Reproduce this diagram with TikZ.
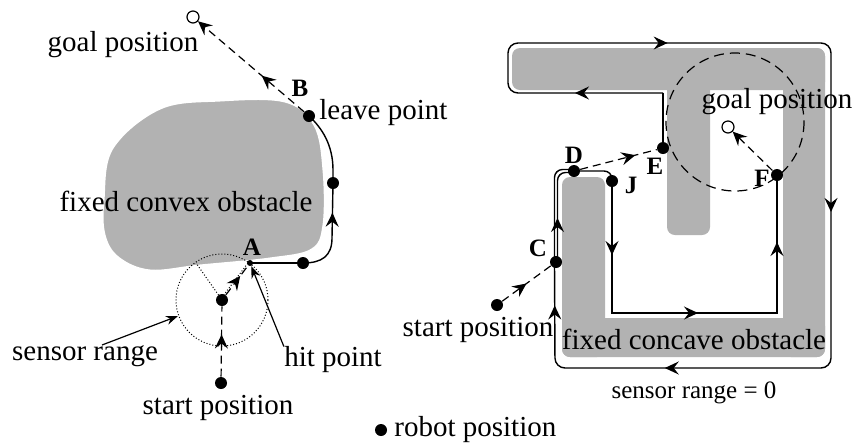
\documentclass[tikz,border=0pt]{standalone}
\usepackage{fontspec}
\setmainfont{Liberation Serif}
\usetikzlibrary{arrows.meta, decorations.markings}

\begin{document}
\begin{tikzpicture}[
   x = 0.5pt, y = -0.5pt,
   font = \fontsize{14.5}{16}\selectfont,
   >/.tip = {Stealth[length=7pt, width=6.5pt, inset=2.5pt]},
   robot/.style = {circle, fill=black, inner sep=0pt, minimum size=6pt},
   goal/.style = {circle, draw=black, fill=white, inner sep=0pt, minimum size=6pt, line width=0.6pt},
   letter/.style = {font=\fontsize{12.5}{14}\selectfont\bfseries, inner sep=0pt},
   lbl/.style = {inner sep=0pt},
   obstacle/.style = {fill=black!30},
   trail/.style = {line width=0.7pt},
   guess/.style = {line width=0.6pt, dash pattern=on 4pt off 2.5pt},
   midarr/.style = {postaction={decorate},
      decoration={markings, mark=at position #1 with {\arrow{>}}}}]
   \useasboundingbox (0,0) rectangle (856,446);

   % left: convex obstacle
   \fill[obstacle, draw=white, line width=1.5pt] plot[smooth cycle, tension=0.6] coordinates
      {(103,200) (112,148) (160,108) (220,100) (285,101) (315,125) (324,170) (324,225)
       (312,250) (270,259) (200,266) (150,271) (118,258) (104,235)};

   \node[robot] (start1) at (221,383) {};
   \node[robot] (robot1) at (222,300) {};
   \node[robot, minimum size=3pt] (hitA) at (250,263) {};
   \node[robot] (follow1) at (303,263) {};
   \node[robot] (follow2) at (333,183) {};
   \node[robot] (leaveB) at (309,116) {};
   \node[goal] (goal1) at (193,17) {};
   \coordinate (rayend) at (196,263);
   \coordinate (rangeto) at (178,316);
   \coordinate (rangefrom) at (102,345);

   \draw[densely dotted, line width=0.5pt] (robot1.center) circle[radius=46];
   \draw[densely dotted, line width=0.5pt] (robot1.center) -- (rayend);
   \draw[densely dotted, line width=0.5pt] ([xshift=-1pt]robot1.center) -- ([xshift=-1pt]hitA.center);
   \draw[guess, midarr=0.6] (start1) -- (robot1);
   \draw[guess, midarr=0.65] (robot1) -- (hitA);
   \draw[trail] (hitA.center) -- (follow1.center);
   \draw[trail, midarr=0.7] (follow1.center) .. controls (322,263) and (332,256) .. (332,238) -- (follow2.center);
   \draw[trail] (follow2.center) -- (333,170) .. controls (333,145) and (322,128) .. (leaveB.center);
   \draw[guess, midarr=0.4, ->] (leaveB) -- (goal1);

   \node[lbl] (goal1lbl) at (123,45) {goal position};
   \node[letter] (lblB) at (300,88) {B};
   \node[lbl, anchor=west] (leavelbl) at (319,113) {leave point};
   \node[lbl] (convexlbl) at (186,201) {fixed convex obstacle};
   \node[letter] (lblA) at (252,247) {A};
   \node[lbl] (rangelbl) at (85,356) {sensor range};
   \node[lbl] (hitlbl) at (333,360) {hit point};
   \node[lbl] (start1lbl) at (218,408) {start position};
   \draw[line width=0.6pt, -{Stealth[length=6pt, width=4.5pt]}] (rangefrom) -- (rangeto);
   \draw[line width=0.6pt, -{Stealth[length=6pt, width=4.5pt]}] (hitlbl.north west) -- (hitA);

   % right: concave obstacle
   \fill[obstacle, rounded corners=4pt] (512,48) rectangle (825,90);
   \fill[obstacle, rounded corners=4pt] (783,48) rectangle (825,357);
   \fill[obstacle, rounded corners=4pt] (562,318) rectangle (825,357);
   \fill[obstacle, rounded corners=4pt] (562,177) rectangle (605,357);
   \fill[obstacle, rounded corners=4pt] (667,48) rectangle (710,235);

   \node[robot] (start2) at (497,305) {};
   \node[robot] (ptC) at (556,262) {};
   \node[robot] (ptD) at (574,171) {};
   \node[robot] (ptJ) at (612,181) {};
   \node[robot] (ptE) at (663,148) {};
   \node[robot] (ptF) at (777,175) {};
   \node[goal] (goal2) at (728,127) {};
   \coordinate (cE) at (663,93);
   \coordinate (cTL1) at (508,93);
   \coordinate (cTL2) at (508,43);
   \coordinate (cTR) at (831,43);
   \coordinate (cBR) at (831,368);
   \coordinate (cBL) at (555,368);
   \coordinate (cJ) at (612,313);
   \coordinate (cF) at (777,313);
   \coordinate (cGoal) at (735,122);

   \draw[line width=0.6pt, dash pattern=on 5pt off 3pt] (cGoal) circle[radius=69];
   \draw[trail] (ptE.center) -- (cE);
   \draw[trail, rounded corners=5pt, postaction={decorate},
      decoration={markings,
         mark=at position 44pt with {\arrow{>}},
         mark=at position 178pt with {\arrow{>}},
         mark=at position 342pt with {\arrow{>}},
         mark=at position 501pt with {\arrow{>}},
         mark=at position 585pt with {\arrow{>}}}]
      (cE) -- (cTL1) -- (cTL2) -- (cTR) -- (cBR) -- (cBL) -- ([xshift=-0.75pt]ptC.center);
   \draw[trail, rounded corners=4pt] ([xshift=-0.75pt]ptC.center) |- ([yshift=0.75pt]ptD.center);
   \draw[trail, rounded corners=4pt, midarr=22pt] ([xshift=0.75pt]ptC.center) |- ([yshift=-0.75pt]ptD.center);
   \draw[trail, rounded corners=4pt] (ptD.center) -| (ptJ.center);
   \draw[trail, postaction={decorate},
      decoration={markings,
         mark=at position 37pt with {\arrow{>}},
         mark=at position 109pt with {\arrow{>}},
         mark=at position 184pt with {\arrow{>}}}]
      (ptJ.center) -- (cJ) -- (cF) -- (ptF.center);
   \draw[guess, midarr=0.5] (start2) -- (ptC);
   \draw[guess, midarr=0.72] (ptD) -- (ptE);
   \draw[guess, ->] (ptF) -- (goal2);

   \node[letter] (lblC) at (538,248) {C};
   \node[letter] (lblD) at (574,155) {D};
   \node[letter] (lblE) at (655,166) {E};
   \node[letter] (lblJ) at (631,185) {J};
   \node[letter] (lblF) at (762,178) {F};
   \node[lbl] (goal2lbl) at (777,102) {goal position};
   \node[lbl] (concavelbl) at (694,339) {fixed concave obstacle};
   \node[lbl, font=\fontsize{12.5}{14}\selectfont] (zerolbl) at (694,393) {sensor range = 0};
   \node[lbl] (start2lbl) at (478,330) {start position};

   % legend
   \node[robot] (legdot) at (381,430) {};
   \node[lbl, anchor=west] (leglbl) at (394,430) {robot position};
\end{tikzpicture}
\end{document}
